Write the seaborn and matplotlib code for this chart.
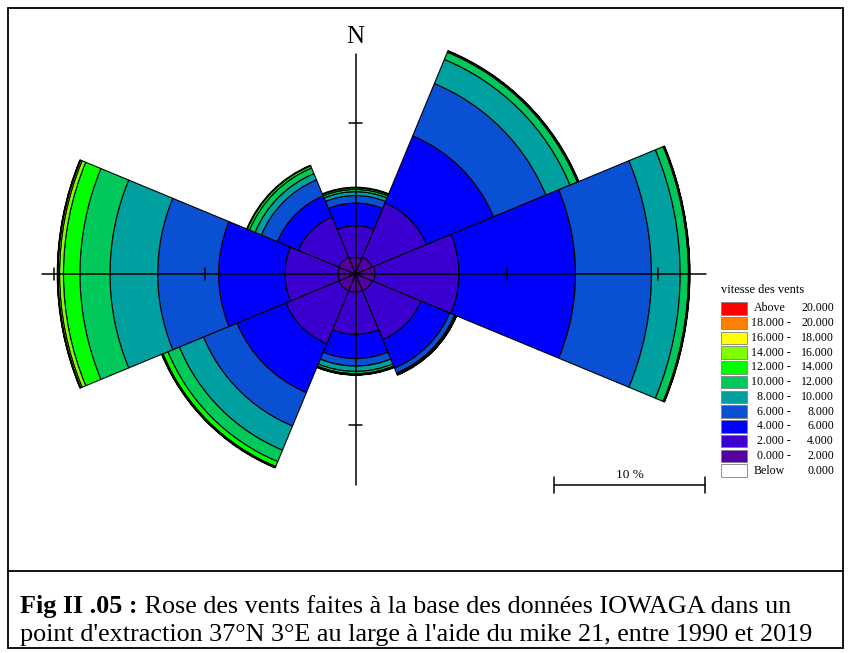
import numpy as np
import matplotlib
matplotlib.use("Agg")
import matplotlib.pyplot as plt
from matplotlib.patches import Wedge, Rectangle
import seaborn as sns

# Wind directions (compass bearing of each 45-degree sector centre)
directions = ["N", "NE", "E", "SE", "S", "SW", "W", "NW"]
bearings = [0, 45, 90, 135, 180, 225, 270, 315]
sector_width = 45

# Frequency (%) of each speed class, from 0-2 up to above 20
freq_N = [1.10, 2.10, 1.50, 0.50, 0.25, 0.15, 0.10, 0.05, 0.00, 0.00, 0.00]
freq_NE = [1.20, 3.90, 4.80, 3.75, 1.73, 0.52, 0.08, 0.03, 0.00, 0.00, 0.00]
freq_E = [1.30, 5.55, 7.72, 5.03, 1.90, 0.55, 0.08, 0.02, 0.00, 0.00, 0.00]
freq_SE = [1.20, 3.50, 2.05, 0.35, 0.05, 0.05, 0.04, 0.01, 0.00, 0.00, 0.00]
freq_S = [1.20, 2.80, 1.60, 0.50, 0.35, 0.15, 0.08, 0.02, 0.00, 0.00, 0.00]
freq_SW = [1.20, 3.80, 3.50, 2.40, 1.73, 0.82, 0.35, 0.08, 0.02, 0.00, 0.00]
freq_W = [1.15, 3.52, 4.40, 4.03, 3.16, 1.99, 1.09, 0.26, 0.10, 0.03, 0.02]
freq_NW = [1.20, 2.90, 1.50, 1.15, 0.45, 0.40, 0.15, 0.05, 0.00, 0.00, 0.00]
frequencies = [freq_N, freq_NE, freq_E, freq_SE, freq_S, freq_SW, freq_W, freq_NW]

# Speed classes (legend, listed from the top)
legend_left = ["Above", "18.000 -", "16.000 -", "14.000 -", "12.000 -", "10.000 -",
               "8.000 -", "6.000 -", "4.000 -", "2.000 -", "0.000 -", "Below"]
legend_right = ["20.000", "20.000", "18.000", "16.000", "14.000", "12.000",
                "10.000", "8.000", "6.000", "4.000", "2.000", "0.000"]
legend_title = "vitesse des vents"

bin_colors = ["#5500a5", "#3b00cf", "#0000ff", "#0a50d2", "#00a0a0", "#00c85a",
              "#00ff00", "#80ff00", "#ffff00", "#ff8000", "#ff0000"]
below_color = "#ffffff"

scale_label = "10 %"
scale_length = 10
caption_bold = "Fig II .05 :"
caption_rest = " Rose des vents faites à la base des données IOWAGA dans un"
caption_line2 = "point d'extraction 37°N 3°E au large à l'aide du mike 21, entre 1990 et 2019"

sns.set_theme(style="white")
plt.rcParams["font.family"] = ["Liberation Serif", "DejaVu Serif"]
plt.rcParams["text.color"] = "black"
palette = sns.color_palette(bin_colors)

W_PX, H_PX = 851, 653
CX, CY, PX_PER_UNIT = 355.5, 274.0, 15.1

fig = plt.figure(figsize=(W_PX / 100, H_PX / 100), dpi=100)
ax = fig.add_axes([0, 0, 1, 1])
ax.set_xlim(-CX / PX_PER_UNIT, (W_PX - CX) / PX_PER_UNIT)
ax.set_ylim(-(H_PX - CY) / PX_PER_UNIT, CY / PX_PER_UNIT)
ax.axis("off")


def P(px, py):
    """Pixel position (from top-left) to data units (% of occurrence)."""
    return (px - CX) / PX_PER_UNIT, (CY - py) / PX_PER_UNIT


def L(px):
    return px / PX_PER_UNIT


# Wind rose sectors
for bearing, freq in zip(bearings, frequencies):
    theta1 = 90 - bearing - sector_width / 2
    theta2 = 90 - bearing + sector_width / 2
    cum = np.cumsum(freq)
    for i, (f, r) in enumerate(zip(freq, cum)):
        if f <= 0:
            continue
        ax.add_patch(Wedge((0, 0), r, theta1, theta2, width=f,
                           facecolor=palette[i], edgecolor="black", lw=0.8, zorder=2))

# Cross axes with ticks every 10 %
ax.plot([-20.77, 23.19], [0, 0], color="black", lw=1.1, zorder=4)
ax.plot([0, 0], [-14.0, 14.6], color="black", lw=1.1, zorder=4)
for t in (-20, -10, 10, 20):
    ax.plot([t, t], [-0.43, 0.43], color="black", lw=1.1, zorder=4)
for t in (-10, 10):
    ax.plot([-0.45, 0.45], [t, t], color="black", lw=1.1, zorder=4)
ax.text(*P(355, 37), "N", fontsize=18, ha="center", va="center", zorder=5)

# Scale bar
sx0, sy = P(554, 484.6)
ax.plot([sx0, sx0 + scale_length], [sy, sy], color="black", lw=1.1)
for x in (sx0, sx0 + scale_length):
    ax.plot([x, x], [sy - L(8), sy + L(8)], color="black", lw=1.1)
ax.text(sx0 + scale_length / 2, sy + L(4), scale_label, fontsize=9.5,
        ha="center", va="bottom")

# Legend
ax.text(*P(721, 290), legend_title, fontsize=9, ha="left", va="center")
row_colors = [palette[i] for i in range(len(bin_colors) - 1, -1, -1)] + [below_color]
for k, (left, right, c) in enumerate(zip(legend_left, legend_right, row_colors)):
    py = 308.3 + k * 14.75
    x0, y0 = P(721, py + 6.3)
    ax.add_patch(Rectangle((x0, y0), L(26), L(12.6), facecolor=c,
                           edgecolor="#808080", lw=0.6))
    if left in ("Above", "Below"):
        ax.text(*P(754, py), left, fontsize=8.6, ha="left", va="center")
    else:
        ax.text(*P(791, py), left, fontsize=8.6, ha="right", va="center")
    ax.text(*P(834, py), right, fontsize=8.6, ha="right", va="center")

# Frame and caption box
bx, by = P(8, 648)
ax.add_patch(Rectangle((bx, by), L(835), L(640), fill=False, edgecolor="black",
                       lw=1.3, zorder=6))
ax.plot([P(8, 0)[0], P(843, 0)[0]], [P(0, 571)[1]] * 2, color="black", lw=1.3, zorder=6)

cap_size = 18.8
t1 = ax.text(*P(20, 607), caption_bold, fontsize=cap_size, fontweight="bold",
             ha="left", va="center")
fig.canvas.draw()
bb = t1.get_window_extent(fig.canvas.get_renderer())
x_end = ax.transData.inverted().transform((bb.x1, bb.y0))[0]
ax.text(x_end, P(0, 607)[1], caption_rest, fontsize=cap_size, ha="left", va="center")
ax.text(*P(20, 635), caption_line2, fontsize=cap_size, ha="left", va="center")

fig.savefig("out.png", dpi=100)
